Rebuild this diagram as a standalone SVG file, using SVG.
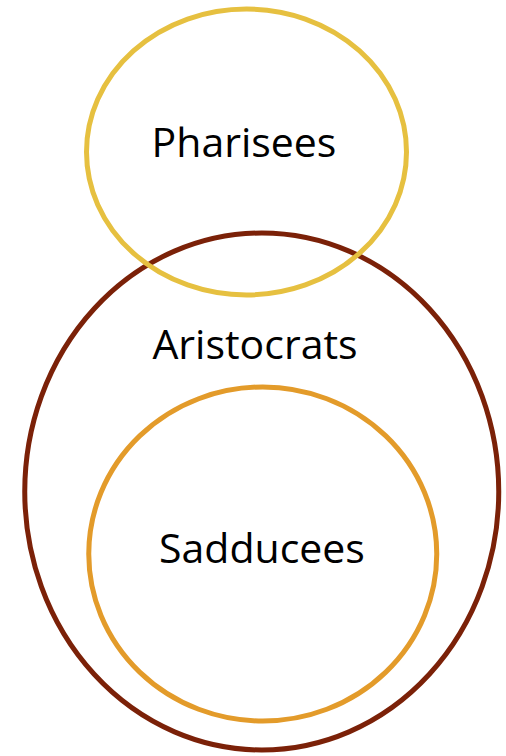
<svg xmlns="http://www.w3.org/2000/svg" width="506" height="756" viewBox="0 0 506 756">
<style>
.ring{fill:none;stroke-width:5}
.lbl{font-family:"Open Sans","Liberation Sans",sans-serif;font-size:41px;fill:#000;text-anchor:middle}
</style>
<rect width="506" height="756" fill="#fff"/>
<g id="aristocrats">
<ellipse class="ring" cx="261.75" cy="491.5" rx="237" ry="258.5" stroke="#7B2108"/>
<text class="lbl" x="255" y="359">Aristocrats</text>
</g>
<g id="pharisees">
<ellipse class="ring" cx="246.5" cy="152" rx="160" ry="143" stroke="#E6C040"/>
<text class="lbl" x="244" y="157">Pharisees</text>
</g>
<g id="sadducees">
<ellipse class="ring" cx="262.75" cy="554" rx="174" ry="167" stroke="#E39B2A"/>
<text class="lbl" x="262" y="563">Sadducees</text>
</g>
<g id="connectors"/>
</svg>
